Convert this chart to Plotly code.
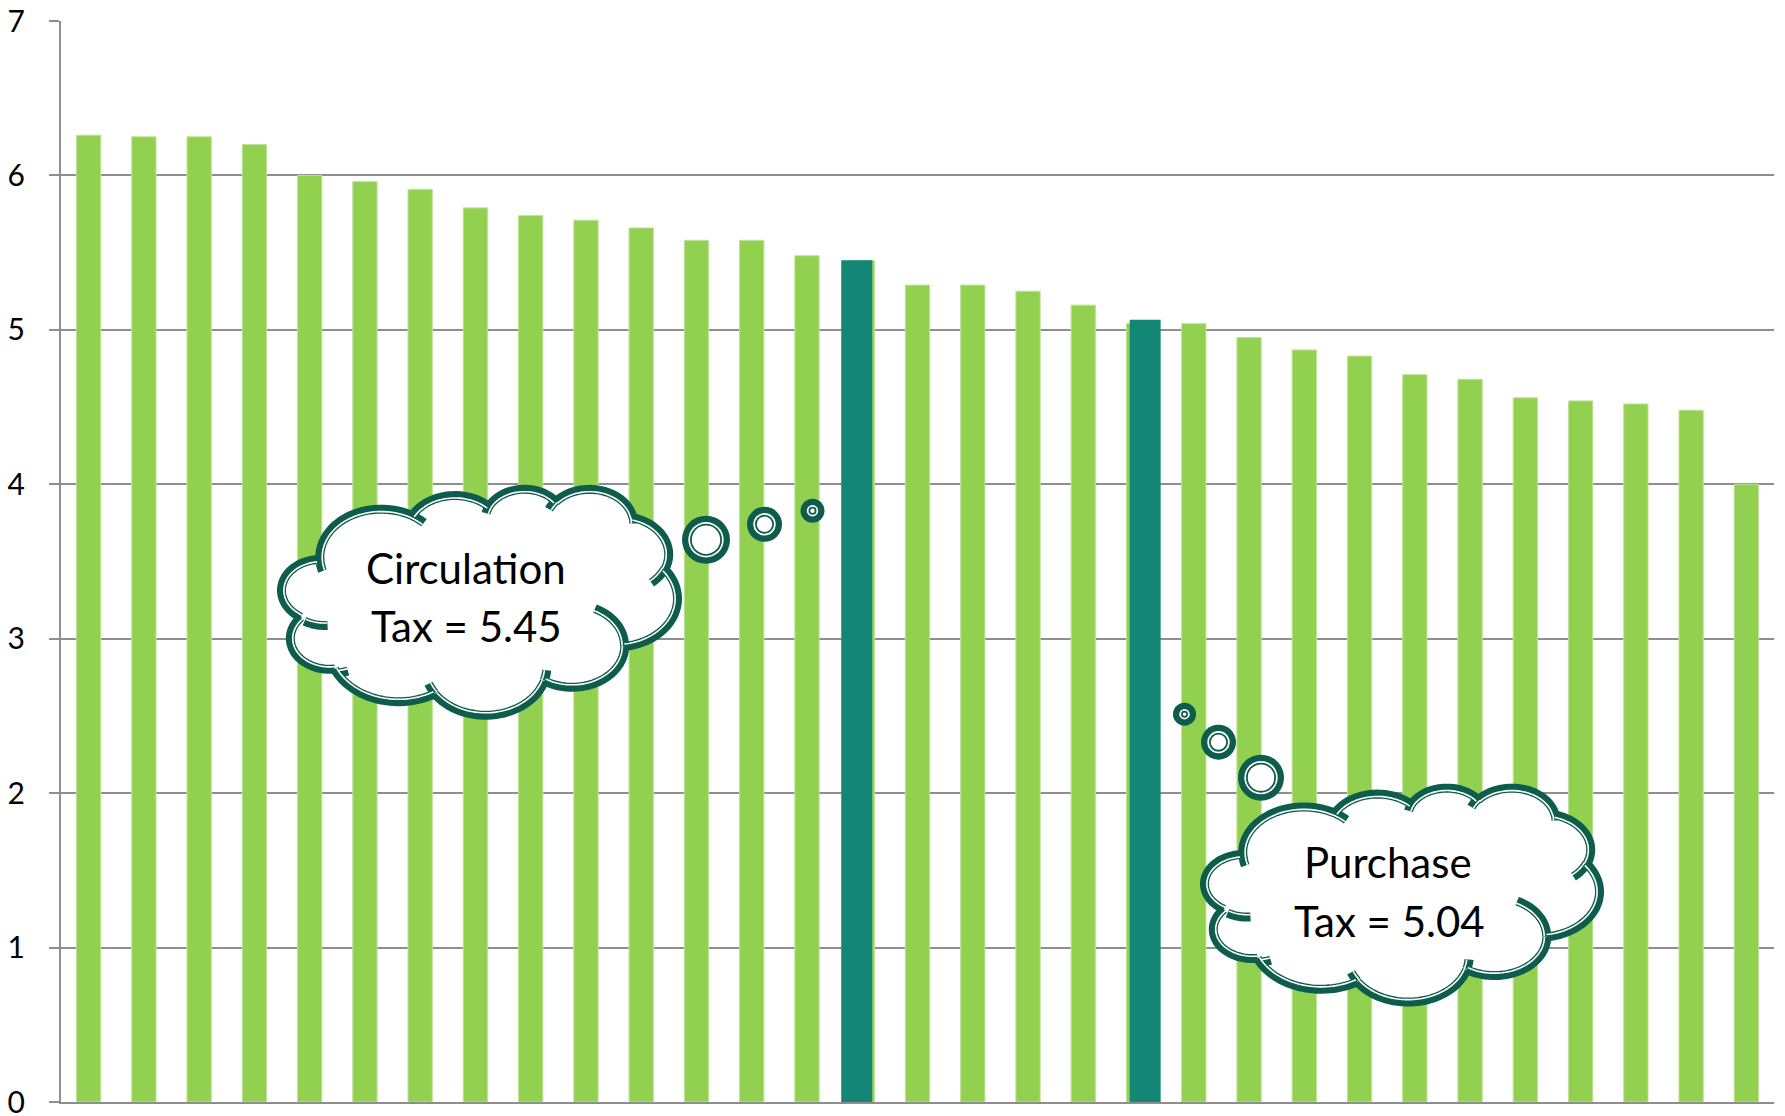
import math
import plotly.graph_objects as go

# ---------------- data ----------------
values = [6.26, 6.25, 6.25, 6.20, 6.00, 5.96, 5.91, 5.79, 5.74, 5.71, 5.66,
          5.58, 5.58, 5.48, 5.45, 5.29, 5.29, 5.25, 5.16, 5.04, 5.04, 4.95,
          4.87, 4.83, 4.71, 4.68, 4.56, 4.54, 4.52, 4.48, 4.00]
positions = list(range(len(values)))
highlight_positions = [14, 19]
highlight_values = [5.45, 5.065]
y_ticks = [0, 1, 2, 3, 4, 5, 6, 7]
cloud_texts = [["Circulation", "Tax = 5.45"], ["Purchase", "Tax = 5.04"]]

# ---------------- styling / geometry ----------------
W, H = 1785, 1116
L, R, T, B = 61, 1774, 21, 1102.5
GREEN = "#92D050"
TEAL = "#138676"
DARK = "#0E5C4C"
GRID = "#8E8E8E"
FONT = "Lato"


def pp(x, y):
    return (x - L) / (R - L), (B - y) / (B - T)


# Office "cloud" preset geometry (43200 x 43200 space)
CLOUD_START = (3900, 14370)
CLOUD_ARCS = [
    (6753, 9190, -11429249, 7426832),
    (5333, 7267, -8646143, 5396714),
    (4365, 5945, -8748475, 5983381),
    (4857, 6595, -7859164, 7034504),
    (5333, 7273, -4722533, 6541615),
    (6775, 9220, -2776035, 7816140),
    (5785, 7867, 37501, 6842000),
    (6752, 9215, 1347096, 6910353),
    (7720, 10543, 3974558, 4936635),
    (4360, 5918, -16496525, 8804134),
    (4345, 5945, -14809710, 9151131),
]
CLOUD_INNER = [
    ((4693, 26177), (4345, 5945, 5204520, 1585770)),
    ((6928, 34899), (4360, 5918, 4416628, 686848)),
    ((16478, 39090), (6752, 9215, 8257449, 844866)),
    ((28827, 34751), (6752, 9215, 387196, 959901)),
    ((34129, 22954), (5785, 7867, -4217541, 4255042)),
    ((41798, 15354), (5333, 7273, 1819082, 1665090)),
    ((38324, 5426), (4857, 6595, -824660, 891534)),
    ((29078, 3952), (4857, 6595, -8950887, 1091722)),
    ((22141, 4720), (4365, 5945, -9809656, 1061181)),
    ((14000, 5192), (6753, 9190, -4002417, 739161)),
    ((4127, 15789), (6753, 9190, 9459261, 711490)),
]


def arc(cur, wR, hR, st, sw, n=40):
    st = math.radians(st / 60000.0)
    sw = math.radians(sw / 60000.0)

    def par(th):
        return math.atan2(wR * math.sin(th), hR * math.cos(th))

    t0 = par(st)
    cx = cur[0] - wR * math.cos(t0)
    cy = cur[1] - hR * math.sin(t0)
    ts = [par(st + sw * k / n) for k in range(n + 1)]
    end = (cx + wR * math.cos(ts[-1]), cy + hR * math.sin(ts[-1]))
    return dict(c=(cx, cy), a=wR, b=hR, ts=ts), end


def build_cloud(box):
    outer = []
    cur = CLOUD_START
    for wR, hR, st, sw in CLOUD_ARCS:
        a, cur = arc(cur, wR, hR, st, sw)
        outer.append(a)
    inner = []
    for p, (wR, hR, st, sw) in CLOUD_INNER:
        a, _ = arc(p, wR, hR, st, sw, 20)
        inner.append(a)
    xs, ys = [], []
    for a in outer:
        for t in a["ts"]:
            xs.append(a["c"][0] + a["a"] * math.cos(t))
            ys.append(a["c"][1] + a["b"] * math.sin(t))
    mnx, mxx, mny, mxy = min(xs), max(xs), min(ys), max(ys)
    X0, Y0, X1, Y1 = box
    sx = (X1 - X0) / (mxx - mnx)
    sy = (Y1 - Y0) / (mxy - mny)

    def pts(a, d=0.0):
        cx = X0 + (a["c"][0] - mnx) * sx
        cy = Y0 + (a["c"][1] - mny) * sy
        A, Bb = a["a"] * sx - d, a["b"] * sy - d
        return [(cx + A * math.cos(t), cy + Bb * math.sin(t)) for t in a["ts"]]

    def sub(points, close=False):
        s = ""
        for i, (x, y) in enumerate(points):
            px, py = pp(x, y)
            s += ("M" if i == 0 else "L") + f"{px:.5f},{py:.5f}"
        return s + ("Z" if close else "")

    fill_pts = []
    for a in outer:
        fill_pts += pts(a)
    fill_path = sub(fill_pts, True)
    dark_path = "".join(sub(pts(a)) for a in outer + inner)
    white_path = "".join(sub(pts(a, 2.4)) for a in outer + inner)
    return [
        dict(type="path", path=fill_path, xref="paper", yref="paper",
             fillcolor="white", line=dict(width=0), layer="above"),
        dict(type="path", path=dark_path, xref="paper", yref="paper",
             fillcolor="rgba(0,0,0,0)", line=dict(color=DARK, width=9), layer="above"),
        dict(type="path", path=white_path, xref="paper", yref="paper",
             fillcolor="rgba(0,0,0,0)", line=dict(color="white", width=1.6), layer="above"),
    ]


def bubble(cx, cy, r):
    out = []
    for rr, col in [(r, DARK), (r - 6.3, "white"), (r - 8.0, DARK), (r - 9.8, "white")]:
        if rr <= 0:
            continue
        x0, y0 = pp(cx - rr, cy + rr)
        x1, y1 = pp(cx + rr, cy - rr)
        out.append(dict(type="circle", xref="paper", yref="paper", x0=x0, y0=y0,
                        x1=x1, y1=y1, fillcolor=col, line=dict(width=0), layer="above"))
    return out


shapes = []
for c in [(706, 540, 24), (764.5, 524.5, 17.5), (812.5, 511, 12),
          (1184.5, 714.5, 11.5), (1218.5, 742.5, 17.5), (1261, 778, 23)]:
    shapes += bubble(*c)
shapes += build_cloud((281.5, 489.5, 677.5, 715.5))
shapes += build_cloud((1204.5, 788.5, 1599.5, 1002.5))

annotations = []
text_pos = [[(466, 568.5), (466, 626.5)], [(1388, 862.5), (1389, 921)]]
for lines, poss in zip(cloud_texts, text_pos):
    for txt, (x, y) in zip(lines, poss):
        px, py = pp(x, y)
        annotations.append(dict(text=txt, x=px, y=py, xref="paper", yref="paper",
                                xanchor="center", yanchor="middle", showarrow=False,
                                font=dict(family=FONT, size=42, color="black")))

fig = go.Figure()
fig.add_trace(go.Bar(x=positions, y=values, width=0.44, marker=dict(
    color=GREEN, line=dict(color="#BFE39A", width=1)), hoverinfo="skip"))
fig.add_trace(go.Bar(x=highlight_positions, y=highlight_values,
                     width=0.56, offset=[-0.38, -0.16],
                     marker=dict(color=TEAL, line=dict(width=0)), hoverinfo="skip"))

fig.update_layout(
    width=W, height=H, barmode="overlay", showlegend=False,
    paper_bgcolor="white", plot_bgcolor="white",
    margin=dict(l=L, r=W - R, t=T, b=H - B, pad=0, autoexpand=False),
    shapes=shapes, annotations=annotations,
    xaxis=dict(range=[-0.5, 30.5], showgrid=False, zeroline=False,
               showline=True, linecolor=GRID, linewidth=2,
               showticklabels=False, ticks="", automargin=False),
    yaxis=dict(range=[0, 7], tickvals=y_ticks, ticktext=[str(v) for v in y_ticks],
               automargin=False, ticklabeloverflow="allow",
               showgrid=True, gridcolor=GRID, gridwidth=1.8, zeroline=False,
               showline=True, linecolor=GRID, linewidth=2,
               ticks="outside", ticklen=10, tickwidth=2, tickcolor=GRID,
               ticklabelstandoff=18,
               tickfont=dict(family=FONT, size=30, color="black")),
)

fig.write_html("out.html")
